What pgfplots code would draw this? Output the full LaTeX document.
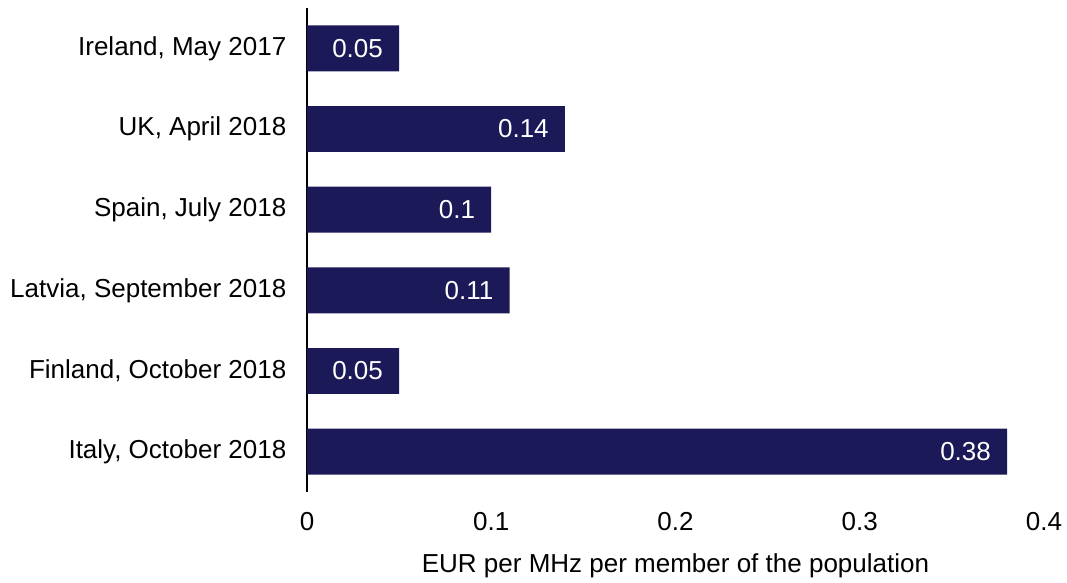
\documentclass[border=0pt]{standalone}
\usepackage{fontspec}
\setmainfont{Liberation Sans}
\usepackage{pgfplots}
\pgfplotsset{compat=1.18}
\definecolor{navy}{HTML}{1B1957}
\begin{document}
\begin{tikzpicture}
\path (-230.25pt,-64.5pt) rectangle (570pt,369pt);
\begin{axis}[
  scale only axis,
  width=552.75pt, height=363pt,
  xbar, bar width=0.57,
  xmin=0, xmax=0.4,
  ymin=-0.5, ymax=5.5,
  xtick={0,0.1,0.2,0.3,0.4},
  xticklabels={0,0.1,0.2,0.3,0.4},
  ytick={0,1,2,3,4,5},
  yticklabels={{Italy, October 2018},{Finland, October 2018},{Latvia, September 2018},{Spain, July 2018},{UK, April 2018},{Ireland, May 2017}},
  major tick length=0,
  axis lines=left,
  axis line style={-},
  x axis line style={draw=none},
  y axis line style={black, line width=1.1pt},
  ticklabel style={font=\fontsize{19.5}{22}\selectfont},
  yticklabel style={xshift=-12pt},
  xticklabel style={yshift=-12pt},
  xlabel={EUR per MHz per member of the population},
  xlabel style={font=\fontsize{19.5}{22}\selectfont, yshift=-10pt},
  /pgf/number format/assume math mode=true,
  nodes near coords,
  nodes near coords style={anchor=east, inner sep=0pt, xshift=-12pt, text=white, font=\fontsize{19.5}{22}\selectfont},
  point meta=explicit symbolic,
  clip=false,
]
\addplot[fill=navy, draw=none] coordinates {
  (0.38,0) [0.38]
  (0.05,1) [0.05]
  (0.11,2) [0.11]
  (0.10,3) [0.1]
  (0.14,4) [0.14]
  (0.05,5) [0.05]
};
\end{axis}
\end{tikzpicture}
\end{document}
